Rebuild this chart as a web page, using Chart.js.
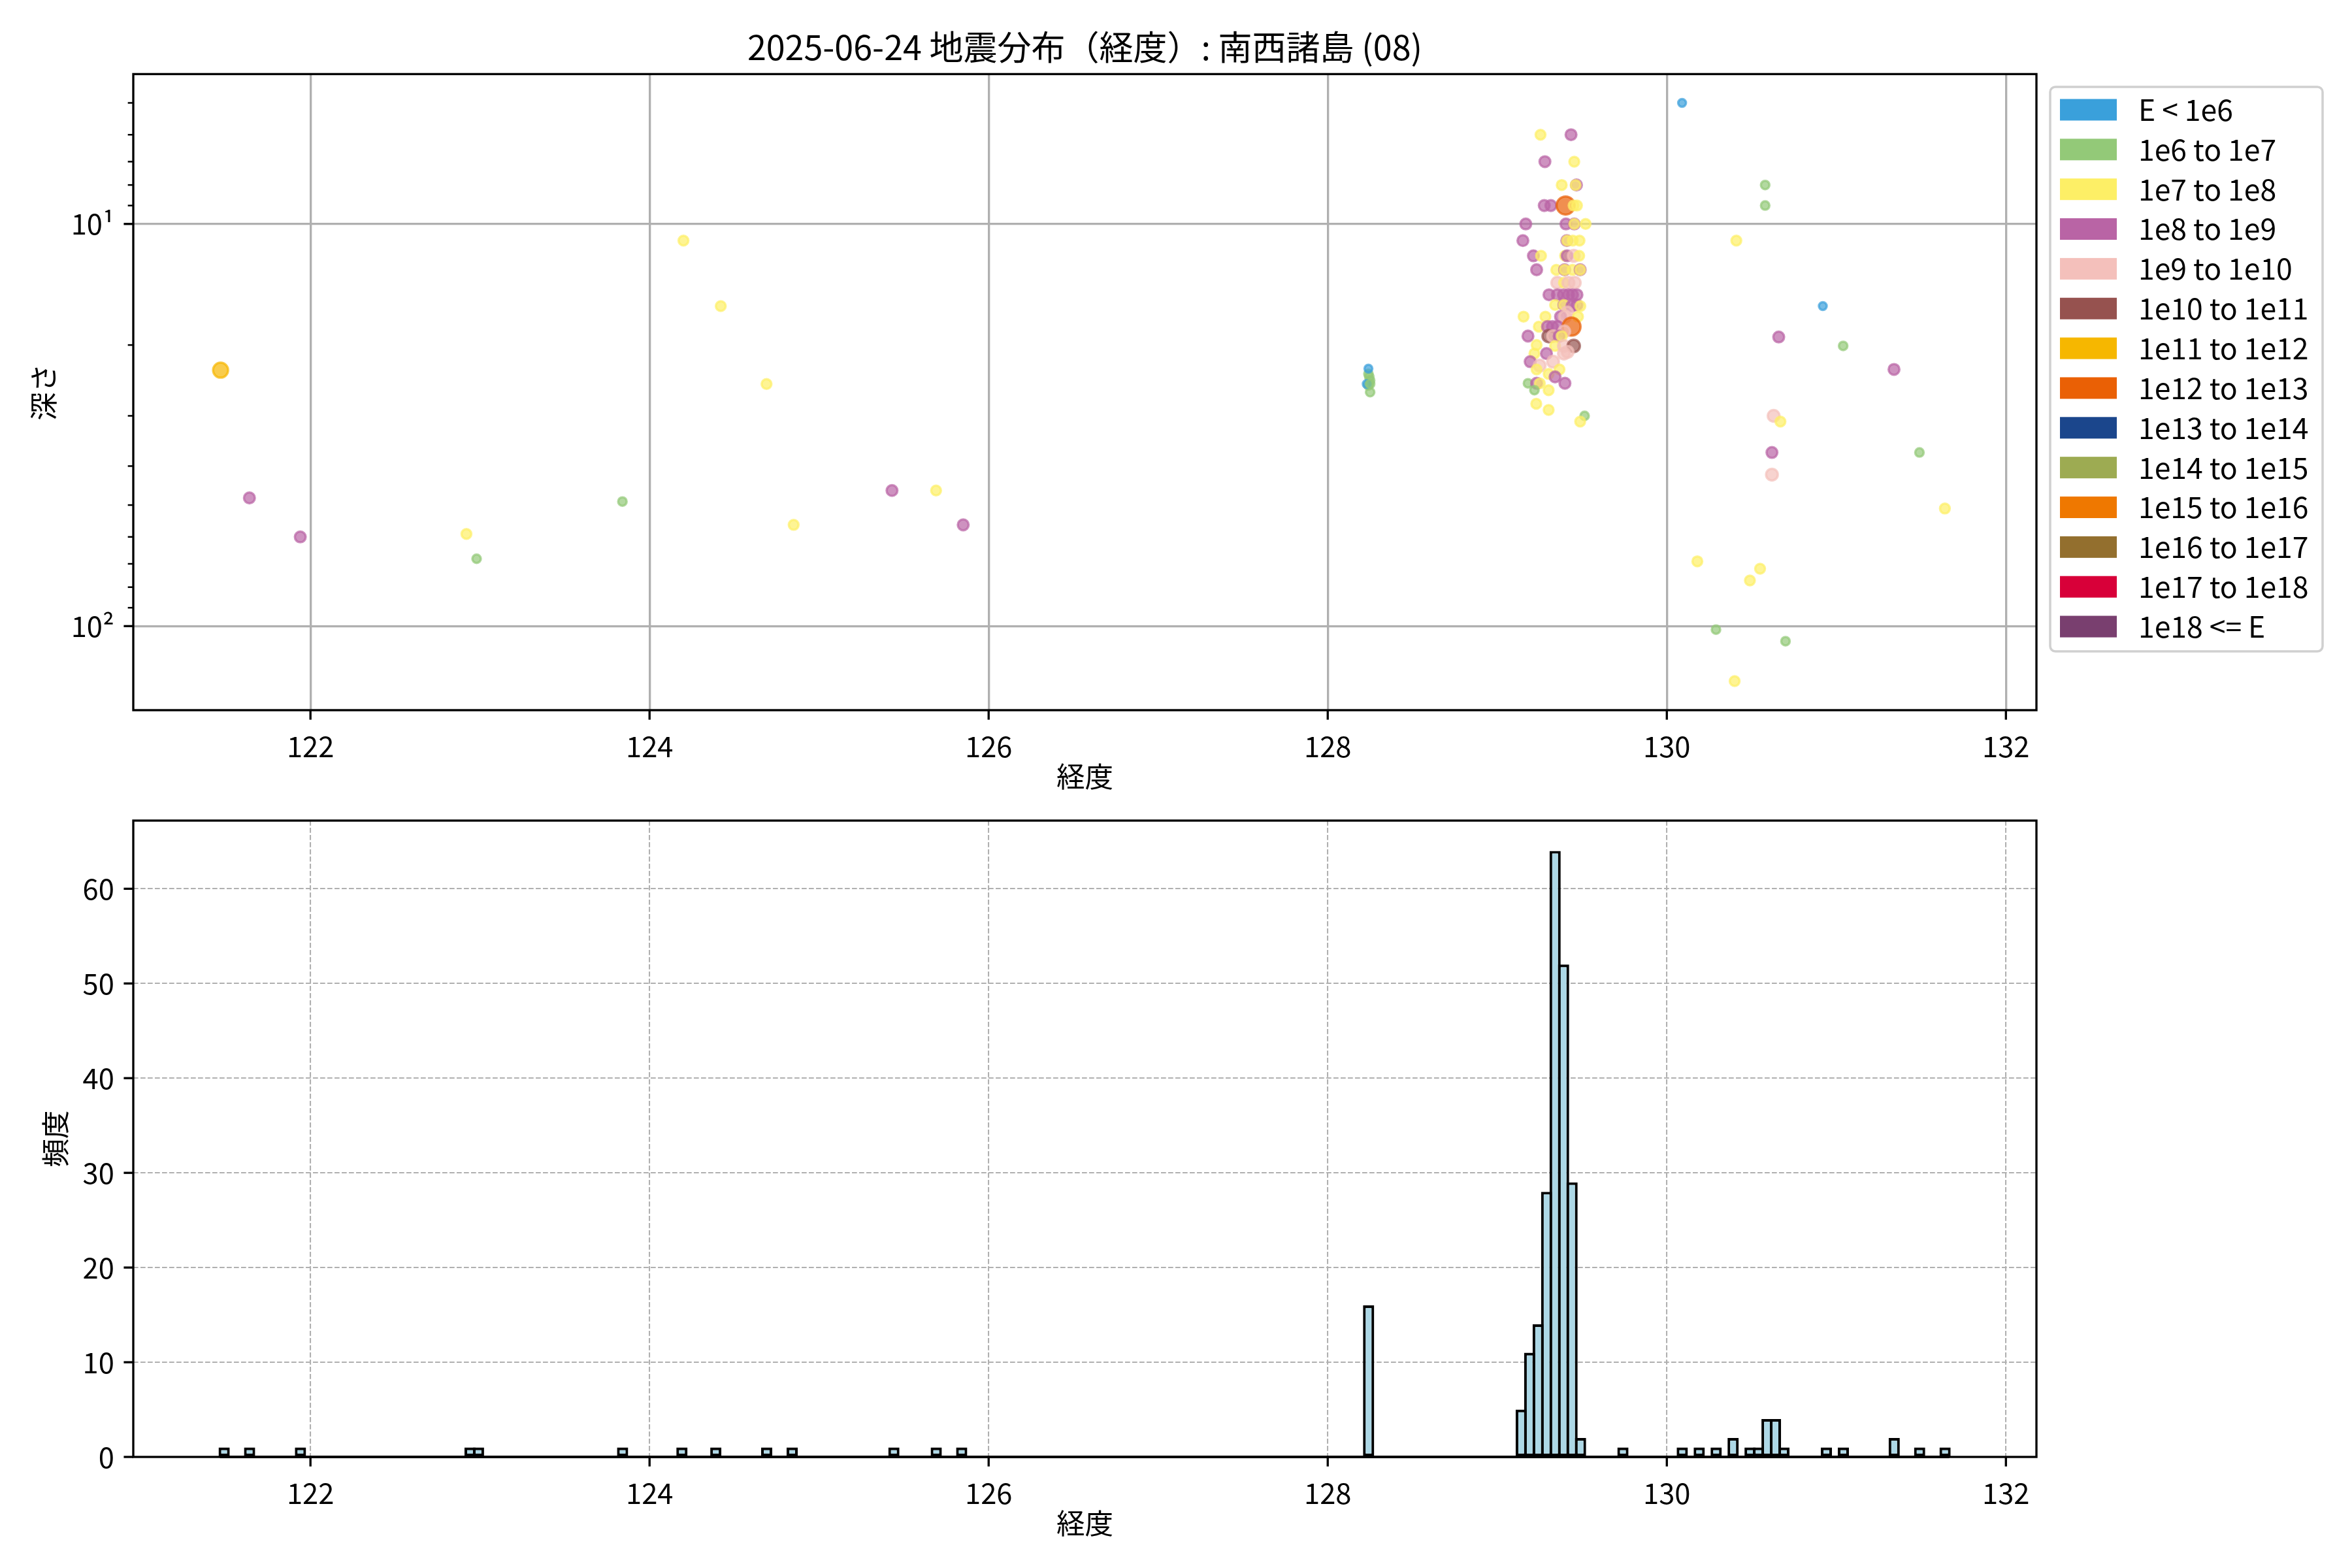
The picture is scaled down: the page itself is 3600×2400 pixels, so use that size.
<!DOCTYPE html>
<html>
<head>
<meta charset="utf-8">
<script src="https://cdn.jsdelivr.net/npm/chart.js@4.4.1/dist/chart.umd.min.js"></script>
<style>
  html, body { margin: 0; padding: 0; background: #ffffff; }
  #wrap { position: relative; width: 3600px; height: 2400px; background: #ffffff; }
  canvas { position: absolute; left: 0; }
  #depthChart { top: 0; }
  #histChart { top: 1230px; }
</style>
</head>
<body>
<div id="wrap">
  <canvas id="depthChart" width="3600" height="1230"></canvas>
  <canvas id="histChart" width="3600" height="1170"></canvas>
</div>
<script>
// energy classes (legend)
const energyLabels = ["E < 1e6", "1e6 to 1e7", "1e7 to 1e8", "1e8 to 1e9", "1e9 to 1e10",
  "1e10 to 1e11", "1e11 to 1e12", "1e12 to 1e13", "1e13 to 1e14", "1e14 to 1e15",
  "1e15 to 1e16", "1e16 to 1e17", "1e17 to 1e18", "1e18 <= E"];
const energyColors = ["#3aa0db", "#93c978", "#fdef66", "#b964a5", "#f4c0bb",
  "#96524f", "#f6b700", "#ea6005", "#1b468c", "#9dab52",
  "#ef7800", "#936f2e", "#d80039", "#793f6f"];

// events: longitude, depth (km), energy class index
const quakeLon = [
  121.47, 121.64, 121.94, 122.92, 122.98, 123.84, 124.20, 124.42, 124.69, 124.85, 125.43, 125.69, 125.85,
  128.24, 128.25, 128.24, 128.25, 128.245, 128.24, 128.23, 128.25,
  129.255, 129.435, 129.281, 129.454, 129.380, 129.467, 129.462, 129.277, 129.316, 129.403, 129.450, 129.470,
  129.168, 129.405, 129.454, 129.454, 129.521, 129.151, 129.410, 129.412, 129.445, 129.485, 129.213, 129.258,
  129.400, 129.412, 129.451, 129.483, 129.232, 129.348, 129.397, 129.397, 129.444, 129.489, 129.489, 129.354,
  129.393, 129.457, 129.420, 129.305, 129.354, 129.390, 129.420, 129.444, 129.470, 129.341, 129.393, 129.393,
  129.470, 129.440, 129.490, 129.412, 129.155, 129.284, 129.373, 129.400, 129.476, 129.245, 129.296, 129.325,
  129.355, 129.438, 129.395, 129.181, 129.303, 129.329, 129.365, 129.380, 129.232, 129.341, 129.393, 129.451,
  129.415, 129.219, 129.290, 129.393, 129.194, 129.329, 129.250, 129.232, 129.367, 129.303, 129.341, 129.181,
  129.232, 129.251, 129.399, 129.219, 129.303, 129.230, 129.303, 129.515, 129.489,
  130.09, 130.58, 130.58, 130.41, 130.92, 130.66, 131.04, 131.34, 130.63, 130.67,
  130.62, 131.49, 130.62, 131.64, 130.18, 130.55, 130.49, 130.29, 130.70, 130.40
];
const quakeDepth = [
  23.1, 48, 60, 59, 68, 49, 11.0, 16.0, 25.0, 56, 46, 46, 56,
  23.6, 24.5, 25.2, 26.2, 24.0, 22.9, 25.0, 25.0,
  6.0, 6.0, 7.0, 7.0, 8.0, 8.0, 8.0, 9.0, 9.0, 9.0, 9.0, 9.0,
  10.0, 10.0, 10.0, 10.0, 10.0, 11.0, 11.0, 11.0, 11.0, 11.0, 12.0, 12.0,
  12.0, 12.0, 12.0, 12.0, 13.0, 13.0, 13.0, 13.0, 13.0, 13.0, 13.0, 14.0,
  14.0, 14.0, 14.0, 15.0, 15.0, 15.0, 15.0, 15.0, 15.0, 15.9, 15.9, 15.9,
  15.9, 16.0, 16.0, 16.6, 17.0, 17.0, 17.0, 17.0, 17.0, 18.0, 18.0, 18.0,
  18.0, 18.0, 18.5, 19.0, 19.0, 19.0, 19.0, 19.0, 20.0, 20.1, 20.1, 20.1,
  20.8, 21.0, 21.0, 21.0, 22.0, 22.0, 22.5, 23.0, 23.0, 23.6, 24.0, 24.9,
  24.9, 24.9, 24.9, 25.9, 25.9, 28.0, 29.0, 30.0, 31.0,
  5.0, 8.0, 9.0, 11.0, 16.0, 19.1, 20.1, 23.0, 30.0, 31.0,
  37, 37, 42, 51, 69, 72, 77, 102, 109, 137
];
const quakeClass = [
  6, 3, 3, 2, 1, 1, 2, 2, 2, 2, 3, 2, 3,
  1, 1, 1, 1, 1, 0, 0, 1,
  2, 3, 3, 2, 2, 3, 2, 3, 3, 7, 2, 2,
  3, 3, 3, 2, 2, 3, 3, 2, 2, 2, 3, 2,
  2, 3, 4, 2, 3, 2, 3, 2, 2, 3, 2, 4,
  2, 4, 4, 3, 3, 3, 3, 3, 3, 2, 3, 2,
  3, 3, 2, 4, 2, 2, 3, 4, 2, 2, 3, 3,
  3, 7, 4, 3, 5, 4, 3, 2, 2, 2, 4, 5,
  4, 2, 3, 4, 3, 4, 4, 2, 2, 2, 3, 1,
  3, 2, 3, 1, 2, 2, 2, 1, 2,
  0, 1, 1, 2, 0, 3, 1, 3, 4, 2,
  3, 1, 4, 2, 2, 2, 2, 1, 1, 2
];

// histogram: bin centres (0.05 deg bins) and counts
const histLon = [121.491, 121.641, 121.941, 122.941, 122.991, 123.841, 124.191, 124.391, 124.691, 124.841,
  125.441, 125.691, 125.841, 128.241, 129.141, 129.191, 129.241, 129.291, 129.341, 129.391,
  129.441, 129.491, 129.741, 130.091, 130.191, 130.291, 130.391, 130.491, 130.541, 130.591,
  130.641, 130.691, 130.941, 131.041, 131.341, 131.491, 131.641];
const histCount = [1, 1, 1, 1, 1, 1, 1, 1, 1, 1,
  1, 1, 1, 16, 5, 11, 14, 28, 64, 52,
  29, 2, 1, 1, 1, 1, 2, 1, 1, 4,
  4, 1, 1, 1, 2, 1, 1];
const histBinWidth = 0.05;

// axis ticks
const lonTicks = [122, 124, 126, 128, 130, 132];
const depthTicks = [5, 6, 7, 8, 9, 10, 20, 30, 40, 50, 60, 70, 80, 90, 100];
const depthLabels = {10: "10¹", 100: "10²"};
const countTicks = [0, 10, 20, 30, 40, 50, 60];

const titleText = "2025-06-24 地震分布（経度）: 南西諸島 (08)";

// ---- style ----
const FONT = "'Noto Sans CJK JP', 'Noto Sans', sans-serif";
const PT = 300 / 72;
const LON_MIN = 120.955, LON_MAX = 132.18;
const markerRadius = [6, 6.5, 7.5, 8.3, 9, 9.5, 11.5, 13.8, 14, 14, 15, 15, 16, 16];

function withAlpha(hex, a) {
  const r = parseInt(hex.slice(1, 3), 16), g = parseInt(hex.slice(3, 5), 16), b = parseInt(hex.slice(5, 7), 16);
  return `rgba(${r},${g},${b},${a})`;
}

const tickFont = {family: FONT, size: 43.5, weight: 'normal'};

// box around the axes + matplotlib style tick marks
const axesFrame = {
  id: 'axesFrame',
  afterDraw(chart) {
    const {ctx, chartArea: a} = chart;
    ctx.save();
    ctx.strokeStyle = '#000';
    for (const s of Object.values(chart.scales)) {
      for (const t of s.ticks) {
        const len = t.major ? 3.5 * PT : 2 * PT;
        ctx.lineWidth = t.major ? 0.8 * PT : 0.6 * PT;
        const p = s.getPixelForValue(t.value);
        ctx.beginPath();
        if (s.isHorizontal()) {
          ctx.moveTo(p, a.bottom);
          ctx.lineTo(p, a.bottom + len);
        } else {
          ctx.moveTo(a.left - len, p);
          ctx.lineTo(a.left, p);
        }
        ctx.stroke();
      }
    }
    ctx.lineWidth = 0.8 * PT;
    ctx.strokeRect(a.left, a.top, a.right - a.left, a.bottom - a.top);
    ctx.restore();
  }
};

const energyLegend = {
  id: 'energyLegend',
  afterDraw(chart) {
    const {ctx, chartArea: a} = chart;
    const x0 = a.right + 21, y0 = 133, w = 417, h = 864, r = 8;
    ctx.save();
    ctx.beginPath();
    ctx.moveTo(x0 + r, y0);
    ctx.arcTo(x0 + w, y0, x0 + w, y0 + h, r);
    ctx.arcTo(x0 + w, y0 + h, x0, y0 + h, r);
    ctx.arcTo(x0, y0 + h, x0, y0, r);
    ctx.arcTo(x0, y0, x0 + w, y0, r);
    ctx.closePath();
    ctx.fillStyle = 'rgba(255,255,255,0.8)';
    ctx.fill();
    ctx.strokeStyle = '#d0d0d0';
    ctx.lineWidth = 3.5;
    ctx.stroke();
    ctx.font = `44.5px ${FONT}`;
    ctx.textBaseline = 'middle';
    energyLabels.forEach((label, i) => {
      const cy = y0 + 35 + i * 60.85;
      ctx.fillStyle = energyColors[i];
      ctx.fillRect(x0 + 15, cy - 16.5, 87, 33);
      ctx.fillStyle = '#000';
      ctx.fillText(label, x0 + 135, cy);
    });
    ctx.restore();
  }
};

// thick edge line of the empty histogram bins along y=0
const histBase = {
  id: 'histBase',
  afterDatasetsDraw(chart) {
    const {ctx} = chart;
    const x = chart.scales.x, y = chart.scales.y;
    ctx.save();
    ctx.strokeStyle = '#000';
    ctx.lineWidth = PT;
    ctx.beginPath();
    ctx.moveTo(x.getPixelForValue(histLon[0] - histBinWidth / 2), y.getPixelForValue(0));
    ctx.lineTo(x.getPixelForValue(histLon[histLon.length - 1] + histBinWidth / 2), y.getPixelForValue(0));
    ctx.stroke();
    ctx.restore();
  }
};

function lonAxis(gridOpts, borderOpts, titlePadBottom, height) {
  return {
    type: 'linear', min: LON_MIN, max: LON_MAX, bounds: 'data', offset: false, z: 1,
    afterBuildTicks: s => { s.ticks = lonTicks.map(v => ({value: v, major: true})); },
    afterFit: s => { s.height = height; s.paddingLeft = 0; s.paddingRight = 0; },
    ticks: {autoSkip: false, maxRotation: 0, minRotation: 0, padding: 7 * PT, color: '#000', font: tickFont,
      callback: v => String(v)},
    grid: Object.assign({drawTicks: false, offset: false}, gridOpts),
    border: borderOpts,
    title: {display: true, text: '経度', color: '#000', font: tickFont, padding: {top: 0, bottom: titlePadBottom}}
  };
}

// fixed width for the value axes, no extra label padding
function fixLeftAxis(s) {
  s.width = 204;
  s.paddingTop = 0;
  s.paddingBottom = 0;
}

// ---- depth scatter ----
new Chart(document.getElementById('depthChart'), {
  type: 'scatter',
  data: {
    datasets: [{
      data: quakeLon.map((lon, i) => ({x: lon, y: quakeDepth[i]})),
      pointBackgroundColor: quakeClass.map(c => withAlpha(energyColors[c], 0.7)),
      pointBorderColor: quakeClass.map(c => withAlpha(energyColors[c], 0.7)),
      pointBorderWidth: 3.5,
      pointRadius: quakeClass.map(c => markerRadius[c])
    }]
  },
  options: {
    responsive: false, animation: false, devicePixelRatio: 1, events: [],
    layout: {padding: {left: 0, right: 483, top: 0, bottom: 0}, autoPadding: false},
    plugins: {
      legend: {display: false},
      tooltip: {enabled: false},
      title: {display: true, text: titleText, fullSize: false, color: '#000',
        font: {family: FONT, size: 52, weight: 'normal'}, padding: {top: 41, bottom: 10}}
    },
    scales: {
      x: lonAxis({color: '#b0b0b0', lineWidth: 0.8 * PT}, {display: false}, 15, 143),
      y: {
        type: 'logarithmic', reverse: true, min: 4.24, max: 161.8, bounds: 'data', z: 1,
        afterBuildTicks: s => { s.ticks = depthTicks.map(v => ({value: v, major: !!depthLabels[v]})); },
        afterFit: fixLeftAxis,
        ticks: {autoSkip: false, padding: 7 * PT, color: '#000', font: tickFont, major: {enabled: false},
          callback: v => depthLabels[v] || ''},
        grid: {drawTicks: false, lineWidth: 0.8 * PT,
          color: c => (c.tick && depthLabels[c.tick.value]) ? '#b0b0b0' : 'rgba(0,0,0,0)'},
        border: {display: false},
        title: {display: true, text: '深さ', color: '#000', font: tickFont, padding: {top: 40, bottom: 0}}
      }
    }
  },
  plugins: [axesFrame, energyLegend]
});

// ---- longitude histogram ----
new Chart(document.getElementById('histChart'), {
  type: 'bar',
  data: {
    datasets: [{
      data: histLon.map((lon, i) => ({x: lon, y: histCount[i]})),
      backgroundColor: '#add8e6',
      borderColor: '#000',
      borderWidth: PT,
      borderSkipped: false,
      barPercentage: 1.32,
      categoryPercentage: 1
    }]
  },
  options: {
    responsive: false, animation: false, devicePixelRatio: 1, events: [],
    layout: {padding: {left: 0, right: 483, top: 26, bottom: 0}, autoPadding: false},
    plugins: {legend: {display: false}, tooltip: {enabled: false}},
    scales: {
      x: lonAxis({color: '#b0b0b0', lineWidth: 0.5 * PT}, {display: false, dash: [7.7, 3.3]}, 42, 170),
      y: {
        type: 'linear', min: 0, max: 67.2, bounds: 'data', z: 1,
        afterBuildTicks: s => { s.ticks = countTicks.map(v => ({value: v, major: true})); },
        afterFit: fixLeftAxis,
        ticks: {autoSkip: false, padding: 7 * PT, color: '#000', font: tickFont, callback: v => String(v)},
        grid: {drawTicks: false, color: '#b0b0b0', lineWidth: 0.5 * PT},
        border: {display: false, dash: [7.7, 3.3]},
        title: {display: true, text: '頻度', color: '#000', font: tickFont, padding: {top: 58, bottom: 0}}
      }
    }
  },
  plugins: [histBase, axesFrame]
});
</script>
</body>
</html>
